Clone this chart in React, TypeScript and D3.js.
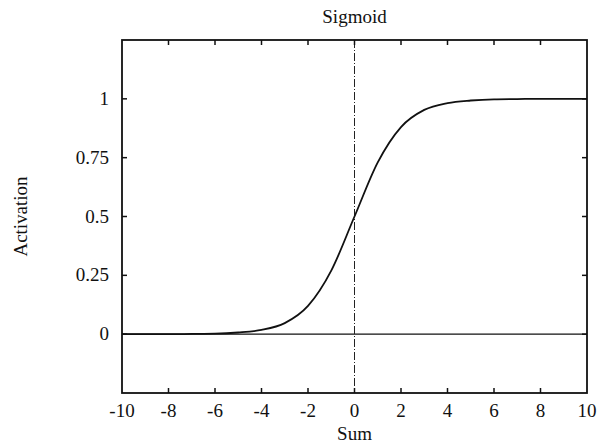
import React from "react";
import * as d3 from "d3";

// values at each integer sum
const sums = [-10, -9, -8, -7, -6, -5, -4, -3, -2, -1, 0, 1, 2, 3, 4, 5, 6, 7, 8, 9, 10];
const activation = [0, 0, 0, 0.001, 0.002, 0.007, 0.018, 0.047, 0.12, 0.27, 0.5, 0.73, 0.88, 0.953, 0.982, 0.993, 0.998, 0.999, 1, 1, 1];
const xTicks = [-10, -8, -6, -4, -2, 0, 2, 4, 6, 8, 10];
const yTicks = [0, 0.25, 0.5, 0.75, 1];
const yLabels = ["0", "0.25", "0.5", "0.75", "1"];

const W = 598;
const H = 445;
const m = { left: 122, right: 11, top: 40, bottom: 52 };
const FONT = "Liberation Serif";

const App = () => {
  const x = d3.scaleLinear().domain([-10, 10]).range([m.left, W - m.right]);
  const y = d3.scaleLinear().domain([-0.25, 1.25]).range([H - m.bottom, m.top]);

  const curve = d3
    .line<number>()
    .x((d, i) => x(sums[i]))
    .y((d) => y(d))
    .curve(d3.curveMonotoneX);

  const tk = 5;
  const txt = { fontFamily: FONT, fontSize: 19, fill: "#111" };

  return (
    <svg width={W} height={H} style={{ position: "absolute", left: 0, top: 0, background: "#fff" }}>
      <text {...txt} x={x(0)} y={23} textAnchor="middle">Sigmoid</text>
      <text {...txt} x={x(0)} y={440} textAnchor="middle">Sum</text>
      <text {...txt} transform={`translate(27,${y(0.5)}) rotate(-90)`} textAnchor="middle">Activation</text>
      {xTicks.map((t) => (
        <text {...txt} key={"xl" + t} x={x(t)} y={417} textAnchor="middle">{t}</text>
      ))}
      {yTicks.map((t, i) => (
        <text {...txt} key={"yl" + t} x={109} y={y(t) + 6} textAnchor="end">{yLabels[i]}</text>
      ))}
      {/* zero line and x=0 marker */}
      <line x1={x(-10)} x2={x(10)} y1={y(0)} y2={y(0)} stroke="#111" strokeWidth={1.2} />
      <line x1={x(0)} x2={x(0)} y1={y(1.25)} y2={y(-0.25)} stroke="#222" strokeWidth={1} strokeDasharray="8,2,1,2" />
      {/* ticks, inward on all four sides */}
      <g stroke="#111" strokeWidth={1.5}>
        {xTicks.slice(1, -1).map((t) => (
          <g key={"xt" + t}>
            <line x1={x(t)} x2={x(t)} y1={y(-0.25)} y2={y(-0.25) - tk} />
            <line x1={x(t)} x2={x(t)} y1={y(1.25)} y2={y(1.25) + tk} />
          </g>
        ))}
        {yTicks.map((t) => (
          <g key={"yt" + t}>
            <line x1={x(-10)} x2={x(-10) + tk} y1={y(t)} y2={y(t)} />
            <line x1={x(10)} x2={x(10) - tk} y1={y(t)} y2={y(t)} />
          </g>
        ))}
      </g>
      <path d={curve(activation) || ""} fill="none" stroke="#111" strokeWidth={1.8} />
      <rect x={x(-10)} y={y(1.25)} width={x(10) - x(-10)} height={y(-0.25) - y(1.25)} fill="none" stroke="#111" strokeWidth={1.8} />
    </svg>
  );
};

export default App;
